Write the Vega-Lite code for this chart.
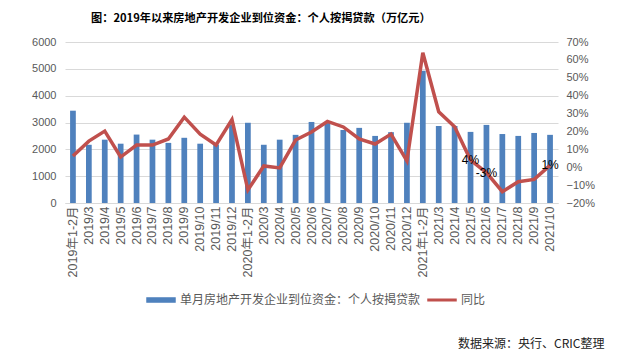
{
  "$schema": "https://vega.github.io/schema/vega-lite/v6.json",
  "background": "white",
  "padding": {"left": 31, "top": 12, "right": 5, "bottom": 5},
  "title": {
    "text": "数据来源：央行、CRIC整理",
    "orient": "bottom",
    "anchor": "end",
    "font": "Noto Sans CJK SC",
    "fontSize": 12,
    "fontWeight": "normal",
    "color": "#222222",
    "offset": 33,
    "dx": 10
  },
  "config": {
    "view": {"stroke": null},
    "font": "Liberation Sans, Noto Sans CJK SC"
  },
  "vconcat": [
    {
      "title": {
        "text": "图：2019年以来房地产开发企业到位资金：个人按揭贷款（万亿元）",
        "anchor": "start",
        "frame": "group",
        "dx": 26,
        "font": "Noto Sans CJK SC",
        "fontSize": 11.2,
        "fontWeight": "bold",
        "color": "#000000",
        "offset": 12
      },
      "width": 493,
      "height": 161,
      "data": {
        "values": [
          {"m": "2019年1-2月", "v": 3440, "y": 0.063},
          {"m": "2019/3", "v": 2170, "y": 0.146},
          {"m": "2019/4", "v": 2360, "y": 0.202},
          {"m": "2019/5", "v": 2210, "y": 0.057},
          {"m": "2019/6", "v": 2550, "y": 0.124},
          {"m": "2019/7", "v": 2360, "y": 0.124},
          {"m": "2019/8", "v": 2240, "y": 0.158},
          {"m": "2019/9", "v": 2430, "y": 0.28},
          {"m": "2019/10", "v": 2210, "y": 0.185},
          {"m": "2019/11", "v": 2180, "y": 0.124},
          {"m": "2019/12", "v": 2920, "y": 0.266},
          {"m": "2020年1-2月", "v": 2990, "y": -0.127},
          {"m": "2020/3", "v": 2170, "y": 0.007},
          {"m": "2020/4", "v": 2360, "y": -0.004},
          {"m": "2020/5", "v": 2540, "y": 0.152},
          {"m": "2020/6", "v": 3020, "y": 0.197},
          {"m": "2020/7", "v": 2980, "y": 0.256},
          {"m": "2020/8", "v": 2720, "y": 0.225},
          {"m": "2020/9", "v": 2800, "y": 0.158},
          {"m": "2020/10", "v": 2500, "y": 0.13},
          {"m": "2020/11", "v": 2640, "y": 0.185},
          {"m": "2020/12", "v": 2990, "y": 0.035},
          {"m": "2021年1-2月", "v": 4930, "y": 0.64},
          {"m": "2021/3", "v": 2870, "y": 0.31},
          {"m": "2021/4", "v": 2870, "y": 0.226},
          {"m": "2021/5", "v": 2650, "y": 0.04, "label": "4%"},
          {"m": "2021/6", "v": 2910, "y": -0.03, "label": "-3%"},
          {"m": "2021/7", "v": 2570, "y": -0.137},
          {"m": "2021/8", "v": 2500, "y": -0.081},
          {"m": "2021/9", "v": 2610, "y": -0.068},
          {"m": "2021/10", "v": 2540, "y": 0.01, "label": "1%"}
        ]
      },
      "encoding": {
        "x": {
          "field": "m",
          "type": "nominal",
          "sort": null,
          "title": null,
          "scale": {"paddingInner": 0.64, "paddingOuter": 0.32},
          "axis": {
            "labelAngle": -90,
            "labelFontSize": 12.5,
            "labelColor": "#595959",
            "labelPadding": 3,
            "ticks": false,
            "domainColor": "#d9d9d9",
            "labelFont": "Liberation Sans, Noto Sans CJK SC"
          }
        }
      },
      "layer": [
        {
          "mark": {"type": "bar", "color": "#4f81bd"},
          "encoding": {
            "y": {
              "field": "v",
              "type": "quantitative",
              "title": null,
              "scale": {"domain": [0, 6000], "nice": false},
              "axis": {
                "values": [0, 1000, 2000, 3000, 4000, 5000, 6000],
                "format": "d",
                "labelFontSize": 11,
                "labelColor": "#595959",
                "labelPadding": 9,
                "ticks": false,
                "domain": false,
                "gridColor": "#d9d9d9",
                "gridWidth": 1
              }
            },
            "color": {
              "datum": "单月房地产开发企业到位资金：个人按揭贷款",
              "type": "nominal",
              "scale": {
                "domain": ["单月房地产开发企业到位资金：个人按揭贷款", "同比"],
                "range": ["#4f81bd", "#c0504d"]
              },
              "legend": {
                "orient": "none",
                "legendX": 81,
                "legendY": 243,
                "direction": "horizontal",
                "title": null,
                "labelFont": "Noto Sans CJK SC",
                "labelFontSize": 12,
                "labelColor": "#595959",
                "labelLimit": 0,
                "labelOffset": 4,
                "columnPadding": 4,
                "symbolSize": 784,
                "encode": {
                  "symbols": {
                    "update": {
                      "shape": {"signal": "datum.value === '同比' ? 'M-1,-0.06H1V0.06H-1Z' : 'M-1,-0.15H1V0.15H-1Z'"},
                      "fill": {"signal": "datum.value === '同比' ? '#c0504d' : '#4f81bd'"},
                      "stroke": {"value": "transparent"},
                      "opacity": {"value": 1},
                      "fillOpacity": {"value": 1}
                    }
                  }
                }
              }
            }
          }
        },
        {
          "encoding": {
            "y": {
              "field": "y",
              "type": "quantitative",
              "title": null,
              "scale": {"domain": [-0.2, 0.7], "nice": false},
              "axis": {
                "orient": "right",
                "values": [-0.2, -0.1, 0, 0.1, 0.2, 0.3, 0.4, 0.5, 0.6, 0.7],
                "format": ".0%",
                "labelFontSize": 11,
                "labelColor": "#595959",
                "labelPadding": 8,
                "ticks": false,
                "domain": false,
                "grid": false
              }
            }
          },
          "layer": [
            {
              "mark": {"type": "line", "strokeWidth": 3.5},
              "encoding": {
                "color": {"datum": "同比", "type": "nominal"}
              }
            },
            {
              "transform": [{"filter": "datum.label != null"}],
              "mark": {"type": "text", "color": "#000000", "fontSize": 12, "font": "Liberation Sans", "align": "center", "baseline": "middle"},
              "encoding": {
                "text": {"field": "label"}
              }
            }
          ]
        }
      ],
      "resolve": {"scale": {"y": "independent"}}
    }
  ]
}
